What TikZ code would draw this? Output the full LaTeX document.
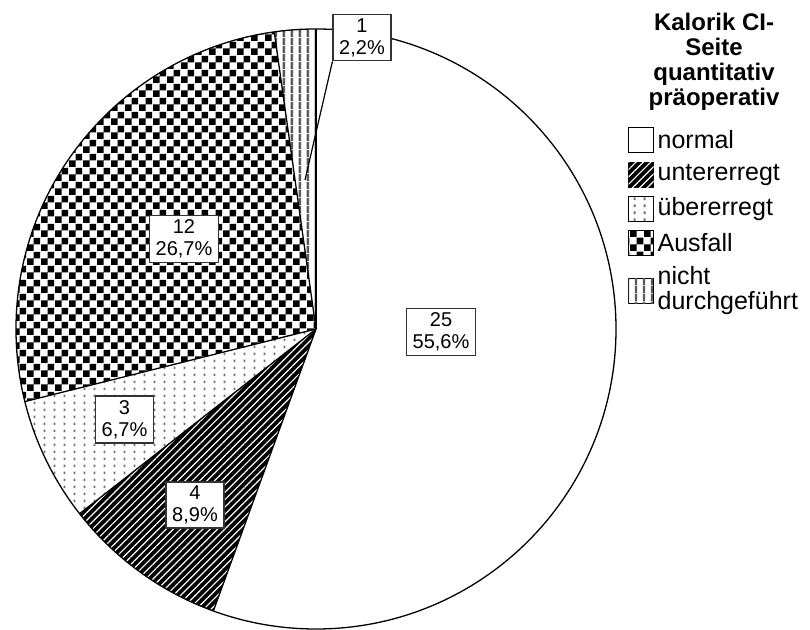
\documentclass[tikz,border=0pt]{standalone}
\usepackage{fontspec}
\setmainfont{Liberation Sans}
\usetikzlibrary{patterns,patterns.meta}

\pgfdeclarepatternformonly{checkers}{\pgfqpoint{0pt}{0pt}}{\pgfqpoint{14pt}{14pt}}{\pgfqpoint{14pt}{14pt}}{%
  \pgfpathrectangle{\pgfqpoint{0pt}{0pt}}{\pgfqpoint{7pt}{7pt}}%
  \pgfpathrectangle{\pgfqpoint{7pt}{7pt}}{\pgfqpoint{7pt}{7pt}}%
  \pgfusepath{fill}}
\pgfdeclarepatternformonly{dotcols}{\pgfqpoint{0pt}{0pt}}{\pgfqpoint{10pt}{7pt}}{\pgfqpoint{10pt}{7pt}}{%
  \pgfpathrectangle{\pgfqpoint{4pt}{2pt}}{\pgfqpoint{2pt}{3pt}}%
  \pgfusepath{fill}}
\pgfdeclarepatternformonly{vcols}{\pgfqpoint{0pt}{0pt}}{\pgfqpoint{8pt}{8pt}}{\pgfqpoint{8pt}{8pt}}{%
  \pgfpathrectangle{\pgfqpoint{3pt}{0pt}}{\pgfqpoint{2.6pt}{8pt}}%
  \pgfusepath{fill}}

\begin{document}
\begin{tikzpicture}[x=1pt,y=1pt,
    rim/.style={draw=black,line width=1.3pt},
    unter/.style={fill=black,postaction={pattern={Lines[angle=45,distance=5.2pt,line width=1.2pt]},pattern color=white}},
    ueber/.style={fill=white,postaction={pattern=dotcols,pattern color=black!55}},
    ausf/.style={pattern=checkers,pattern color=black},
    nicht/.style={fill=white,postaction={pattern=vcols,pattern color=black!65}},
    lab/.style={draw=black!80,line width=1.5pt,fill=white,align=center,font=\fontsize{20}{22}\selectfont,inner xsep=6pt,inner ysep=4pt},
    key/.style={draw=black,line width=1.2pt,minimum size=25pt,inner sep=0pt},
    leg/.style={anchor=west,align=left,font=\fontsize{25}{25}\selectfont}]
	\useasboundingbox (0,0) rectangle (810,629);
	\fill[white] (0,0) rectangle (810,629);
	\coordinate (c) at (316,300);
	
	% slices
	\path[fill=white] (c) -- +(90:300) arc[start angle=90,end angle=-110,radius=300] -- cycle;
	\path[unter] (c) -- +(-110:300) arc[start angle=-110,end angle=-142,radius=300] -- cycle;
	\path[ueber] (c) -- +(-142:300) arc[start angle=-142,end angle=-166,radius=300] -- cycle;
	\path[ausf] (c) -- +(-166:300) arc[start angle=-166,end angle=-262,radius=300] -- cycle;
	\path[nicht] (c) -- +(-262:300) arc[start angle=-262,end angle=-270,radius=300] -- cycle;
	\foreach \a in {90,-110,-142,-166,-262}
		\draw[rim] (c) -- +(\a:300);
	\draw[rim] (c) circle[radius=300];
	
	% counts
	\path (441,297) node[lab] (l25) {25\\55,6\%}
		(184,390) node[lab] (l12) {12\\26,7\%}
		(124.5,209.5) node[lab] (l3) {3\\6,7\%}
		(195,124) node[lab] (l4) {4\\8,9\%}
		(362,591.5) node[lab] (l1) {1\\2,2\%};
	\coordinate (t1) at (305,449);
	\draw[black,line width=1.2pt] (l1.south west) -- (t1);
	
	% legend
	\node[align=center,font=\bfseries\fontsize{24}{25}\selectfont] (ttl) at (714,567) {Kalorik CI-\\Seite\\quantitativ\\präoperativ};
	\path (641,489) node[key,fill=white] (k1) {}
		(641,454) node[key,unter] (k2) {}
		(641,420) node[key,ueber] (k3) {}
		(641,386) node[key,ausf] (k4) {}
		(641,338) node[key,nicht] (k5) {};
	\node[leg] (t1l) at (k1.east) {normal};
	\node[leg] (t2l) at (k2.east) {untererregt};
	\node[leg] (t3l) at (k3.east) {übererregt};
	\node[leg] (t4l) at (k4.east) {Ausfall};
	\node[leg] (t5l) at (k5.east) {nicht\\durchgeführt};
\end{tikzpicture}
\end{document}
